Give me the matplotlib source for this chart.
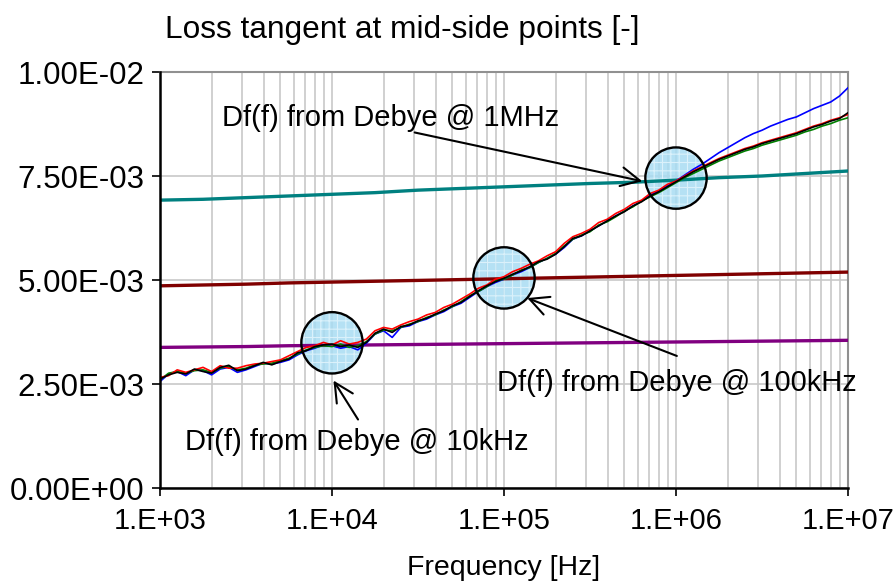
import numpy as np
import matplotlib.pyplot as plt

plt.rcParams['font.family'] = ['Liberation Sans', 'DejaVu Sans']

# frequency sweep, 20 points per decade (1 kHz .. 10 MHz)
freq = np.logspace(3, 7, 81)

# loss tangent, in units of 1e-3
df_black = [2.62, 2.72, 2.78, 2.74, 2.86, 2.80, 2.76, 2.90, 2.95, 2.82,
            2.86, 2.94, 3.02, 2.96, 3.04, 3.10, 3.25, 3.30, 3.40, 3.44,
            3.46, 3.40, 3.44, 3.38, 3.50, 3.72, 3.82, 3.74, 3.88, 3.92,
            4.02, 4.08, 4.18, 4.26, 4.38, 4.46, 4.60, 4.74, 4.86, 4.96,
            5.04, 5.14, 5.22, 5.32, 5.44, 5.50, 5.62, 5.80, 6.00, 6.06,
            6.18, 6.30, 6.42, 6.54, 6.64, 6.78, 6.88, 7.02, 7.12, 7.24,
            7.36, 7.48, 7.60, 7.70, 7.80, 7.90, 7.98, 8.06, 8.14, 8.20,
            8.28, 8.34, 8.40, 8.46, 8.52, 8.60, 8.68, 8.74, 8.82, 8.88,
            9.02]
df_red = [2.66, 2.70, 2.84, 2.78, 2.84, 2.90, 2.80, 2.94, 2.88, 2.88,
          2.94, 2.98, 3.00, 3.04, 3.08, 3.18, 3.28, 3.38, 3.42, 3.50,
          3.44, 3.54, 3.46, 3.50, 3.58, 3.78, 3.86, 3.82, 3.92, 4.00,
          4.06, 4.16, 4.22, 4.34, 4.42, 4.54, 4.66, 4.80, 4.88, 5.02,
          5.08, 5.20, 5.28, 5.38, 5.46, 5.58, 5.68, 5.88, 6.04, 6.12,
          6.22, 6.38, 6.46, 6.60, 6.70, 6.84, 6.92, 7.08, 7.16, 7.30,
          7.38, 7.50, 7.62, 7.72, 7.82, 7.92, 8.00, 8.08, 8.16, 8.22,
          8.30, 8.36, 8.42, 8.48, 8.54, 8.62, 8.70, 8.76, 8.84, 8.90,
          8.98]
df_green = [2.60, 2.76, 2.80, 2.76, 2.82, 2.84, 2.78, 2.88, 2.92, 2.84,
            2.88, 2.96, 2.98, 3.00, 3.06, 3.12, 3.22, 3.32, 3.38, 3.42,
            3.40, 3.46, 3.38, 3.42, 3.52, 3.70, 3.80, 3.78, 3.86, 3.94,
            4.00, 4.10, 4.16, 4.28, 4.36, 4.48, 4.62, 4.72, 4.84, 4.98,
            5.02, 5.12, 5.24, 5.30, 5.42, 5.52, 5.64, 5.82, 5.98, 6.08,
            6.16, 6.32, 6.40, 6.52, 6.66, 6.76, 6.90, 7.00, 7.10, 7.22,
            7.34, 7.46, 7.56, 7.66, 7.76, 7.86, 7.94, 8.02, 8.10, 8.16,
            8.24, 8.30, 8.36, 8.42, 8.48, 8.56, 8.62, 8.70, 8.76, 8.84,
            8.90]
df_blue = [2.56, 2.74, 2.80, 2.70, 2.84, 2.82, 2.72, 2.86, 2.90, 2.78,
           2.84, 2.92, 3.00, 2.98, 3.02, 3.08, 3.20, 3.30, 3.36, 3.44,
           3.42, 3.36, 3.40, 3.32, 3.48, 3.70, 3.78, 3.62, 3.86, 3.90,
           4.00, 4.06, 4.16, 4.24, 4.36, 4.44, 4.58, 4.72, 4.84, 4.94,
           5.02, 5.12, 5.20, 5.30, 5.42, 5.52, 5.62, 5.78, 5.98, 6.06,
           6.18, 6.30, 6.42, 6.54, 6.66, 6.78, 6.90, 7.04, 7.14, 7.26,
           7.38, 7.52, 7.66, 7.78, 7.92, 8.06, 8.18, 8.30, 8.42, 8.52,
           8.60, 8.70, 8.78, 8.86, 8.92, 9.02, 9.12, 9.20, 9.28, 9.42,
           9.62]

# Debye fits, 4 points per decade
freq_fit = np.logspace(3, 7, 17)
debye_1mhz = [6.92, 6.94, 6.98, 7.02, 7.06, 7.10, 7.16, 7.20, 7.24,
              7.28, 7.32, 7.35, 7.40, 7.46, 7.50, 7.56, 7.62]
debye_100khz = [4.86, 4.88, 4.90, 4.93, 4.95, 4.97, 4.99, 5.01, 5.03,
                5.05, 5.07, 5.09, 5.11, 5.13, 5.15, 5.17, 5.19]
debye_10khz = [3.38, 3.39, 3.40, 3.42, 3.43, 3.44, 3.45, 3.46, 3.47,
               3.48, 3.49, 3.50, 3.51, 3.52, 3.53, 3.54, 3.55]

# fit points (circled)
fit_freq = [1e4, 1e5, 1e6]
fit_df = [3.49, 5.05, 7.45]
fit_labels = ["Df(f) from Debye @ 10kHz", "Df(f) from Debye @ 100kHz",
              "Df(f) from Debye @ 1MHz"]

yticks = [0.0, 2.5, 5.0, 7.5, 10.0]
ytick_labels = ["0.00E+00", "2.50E-03", "5.00E-03", "7.50E-03", "1.00E-02"]
xticks = [1e3, 1e4, 1e5, 1e6, 1e7]
xtick_labels = ["1.E+03", "1.E+04", "1.E+05", "1.E+06", "1.E+07"]

FS_NOTE = 21

fig = plt.figure(figsize=(8.96, 5.84), dpi=100)
ax = fig.add_axes([160 / 896, 96 / 584, 688 / 896, 416 / 584])

ax.semilogx(freq_fit, debye_1mhz, color='#008080', lw=2.4, zorder=3)
ax.semilogx(freq_fit, debye_100khz, color='#800000', lw=2.4, zorder=3)
ax.semilogx(freq_fit, debye_10khz, color='#800080', lw=2.4, zorder=3)

ax.semilogx(freq, df_blue, color='#0000ff', lw=1.2, zorder=4)
ax.semilogx(freq, df_green, color='#008000', lw=1.2, zorder=4)
ax.semilogx(freq, df_red, color='#ff0000', lw=1.2, zorder=4)
ax.semilogx(freq, df_black, color='black', lw=1.2, zorder=4)

# hatched light-blue fill (under the curves), then black outline on top
plt.rcParams['hatch.linewidth'] = 0.8
ax.scatter(fit_freq, fit_df, s=1950, facecolor='#a8dcf3', edgecolor='#e2f5fd',
           linewidths=0, hatch='++', alpha=0.85, zorder=2.5)
ax.scatter(fit_freq, fit_df, s=1950, facecolor='none', edgecolor='black',
           linewidths=1.7, zorder=5)

ax.set_xlim(1e3, 1e7)
ax.set_ylim(0, 10)
ax.set_xticks(xticks)
ax.set_xticklabels(xtick_labels)
ax.set_yticks(yticks)
ax.set_yticklabels(ytick_labels)
ax.minorticks_off()
ax.set_xticks([m * d for d in [1e3, 1e4, 1e5, 1e6] for m in range(2, 10)], minor=True)
ax.tick_params(axis='x', which='minor', length=0)
ax.tick_params(axis='x', which='major', labelsize=21, length=6, width=1.2,
               direction='out', pad=8)
ax.tick_params(axis='y', which='major', labelsize=22.5, length=6, width=1.2,
               direction='out', pad=5)
ax.grid(True, which='both', axis='x', color='#c8c8c8', lw=1.2)
ax.grid(True, which='major', axis='y', color='#c8c8c8', lw=1.2)
ax.set_axisbelow(True)

for s in ['left', 'bottom']:
    ax.spines[s].set_linewidth(1.8)
    ax.spines[s].set_color('black')
    ax.spines[s].set_zorder(6)
for s in ['top', 'right']:
    ax.spines[s].set_linewidth(1.5)
    ax.spines[s].set_color('#909090')

ax.set_xlabel("Frequency [Hz]", fontsize=20.5, labelpad=14)
fig.text(165 / 896, 1 - 30 / 584, "Loss tangent at mid-side points [-]",
         fontsize=22.8, va='center', ha='left')

arrow = dict(arrowstyle='->', color='black', lw=1.5, mutation_scale=34)
# 10 kHz
ax.annotate("", xy=(fit_freq[0], 2.64), xytext=(10 ** 4.16, 1.59),
            arrowprops=arrow, zorder=7)
ax.text(10 ** 3.145, 1.10, fit_labels[0], fontsize=FS_NOTE, va='center', ha='left')
# 100 kHz
ax.annotate("", xy=(10 ** 5.12, 4.59), xytext=(10 ** 6.02, 3.15),
            arrowprops=arrow, zorder=7)
ax.text(10 ** 4.96, 2.52, fit_labels[1], fontsize=FS_NOTE, va='center', ha='left')
# 1 MHz
ax.annotate("", xy=(10 ** 5.82, 7.36), xytext=(10 ** 4.465, 8.56),
            arrowprops=arrow, zorder=7)
ax.text(10 ** 3.36, 8.89, fit_labels[2], fontsize=FS_NOTE, va='center', ha='left')

fig.savefig("out.png", dpi=100)
